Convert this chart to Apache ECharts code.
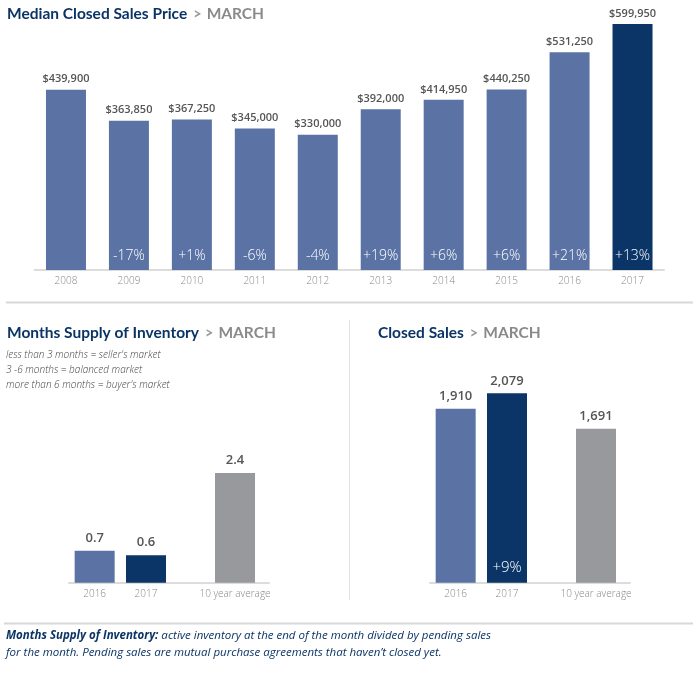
<!DOCTYPE html>
<html><head><meta charset="utf-8">
<script src="https://cdn.jsdelivr.net/npm/echarts@6/dist/echarts.min.js"></script>
<style>html,body{margin:0;padding:0;background:#fff}#c{width:700px;height:685px}</style>
</head><body><div id="c"></div>
<script>
// ---- data ----
var priceYears = ['2008','2009','2010','2011','2012','2013','2014','2015','2016','2017'];
var priceValues = [439900,363850,367250,345000,330000,392000,414950,440250,531250,599950];
var priceChanges = ['','-17%','+1%','-6%','-4%','+19%','+6%','+6%','+21%','+13%'];
var supplyCats = ['2016','2017'];
var supplyValues = [0.7,0.6];
var supplyAvgCat = ['10 year average'];
var supplyAvg = [2.4];
var salesCats = ['2016','2017'];
var salesValues = [1910,2079];
var salesAvgCat = ['10 year average'];
var salesAvg = [1691];
var salesChanges = ['','+9%'];

var LIGHT='#5a73a4', DARK='#0a3566', GRAY='#98999d', NAVY='#0b3466';
var FONT='"Open Sans", "Noto Sans", sans-serif';
var TFONT='Lato, "Open Sans", sans-serif';

function fmtMoney(v){return '$'+v.toLocaleString('en-US');}
function fmtInt(v){return v.toLocaleString('en-US');}

var chart = echarts.init(document.getElementById('c'), null, {renderer:'canvas'});

function titleRich(){
  return {
    a:{fontFamily:TFONT,fontSize:15.5,fontWeight:'bold',color:NAVY},
    g:{fontFamily:TFONT,fontSize:14.5,color:'#999',padding:[0,5,0,6]},
    m:{fontFamily:TFONT,fontSize:15.5,fontWeight:'bold',color:'#8a8a8d'}
  };
}
function xAxisCfg(idx, data){
  return {type:'category', gridIndex:idx, data:data,
    axisLine:{show:true,lineStyle:{color:'#dcdcdc',width:2}},
    axisTick:{show:false},
    axisLabel:{color:'#888',fontFamily:FONT,fontSize:10,margin:6,fontWeight:300}};
}
function yAxisCfg(idx, max){
  return {type:'value', gridIndex:idx, min:0, max:max, show:false, splitLine:{show:false}};
}
var topLabel = {show:true,position:'top',distance:5,color:'#555',fontFamily:FONT,fontSize:11,fontWeight:600};
var bigTopLabel = {show:true,position:'top',distance:6,color:'#555',fontFamily:FONT,fontSize:13,fontWeight:600};

var option = {
  animation:false,
  backgroundColor:'#fff',
  title:[
    {left:2,top:1,text:'{a|Median Closed Sales Price}{g|>}{m|MARCH}',textStyle:{rich:titleRich()}},
    {left:2,top:320,text:'{a|Months Supply of Inventory}{g|>}{m|MARCH}',textStyle:{rich:titleRich()}},
    {left:373,top:320,text:'{a|Closed Sales}{g|>}{m|MARCH}',textStyle:{rich:titleRich()}}
  ],
  grid:[
    {left:34.5,right:36,top:24,bottom:415},
    {left:69,width:154,top:400,bottom:102.3},
    {left:201,width:68,top:400,bottom:102.3},
    {left:430,width:154,top:382.3,bottom:102.3},
    {left:562,width:68,top:382.3,bottom:102.3}
  ],
  xAxis:[
    xAxisCfg(0, priceYears),
    xAxisCfg(1, supplyCats.concat([''])),
    xAxisCfg(2, supplyAvgCat),
    xAxisCfg(3, salesCats.concat([''])),
    xAxisCfg(4, salesAvgCat)
  ],
  yAxis:[yAxisCfg(0,600000),yAxisCfg(1,4),yAxisCfg(2,4),yAxisCfg(3,2200),yAxisCfg(4,2200)],
  series:[
    {type:'bar',xAxisIndex:0,yAxisIndex:0,barWidth:40,
      data:priceValues.map(function(v,i){return {value:v,itemStyle:{color:i===priceValues.length-1?DARK:LIGHT}};}),
      label:Object.assign({},topLabel,{formatter:function(p){return fmtMoney(p.value);}})},
    {type:'bar',xAxisIndex:0,yAxisIndex:0,barWidth:40,barGap:'-100%',
      data:priceValues,itemStyle:{color:'rgba(0,0,0,0)'},
      label:{show:true,position:'insideBottom',distance:7,color:'#fff',fontFamily:FONT,fontSize:14,fontWeight:300,
        formatter:function(p){return priceChanges[p.dataIndex];}}},
    {type:'bar',xAxisIndex:1,yAxisIndex:1,barWidth:40,
      data:supplyValues.map(function(v,i){return {value:v,itemStyle:{color:i===0?LIGHT:DARK}};}),
      label:Object.assign({},bigTopLabel,{formatter:function(p){return p.value.toFixed(1);}})},
    {type:'bar',xAxisIndex:2,yAxisIndex:2,barWidth:40,
      data:supplyAvg,itemStyle:{color:GRAY},
      label:Object.assign({},bigTopLabel,{formatter:function(p){return p.value.toFixed(1);}})},
    {type:'bar',xAxisIndex:3,yAxisIndex:3,barWidth:40,
      data:salesValues.map(function(v,i){return {value:v,itemStyle:{color:i===0?LIGHT:DARK}};}),
      label:Object.assign({},bigTopLabel,{formatter:function(p){return fmtInt(p.value);}})},
    {type:'bar',xAxisIndex:3,yAxisIndex:3,barWidth:40,barGap:'-100%',
      data:salesValues,itemStyle:{color:'rgba(0,0,0,0)'},
      label:{show:true,position:'insideBottom',distance:7,color:'#fff',fontFamily:FONT,fontSize:15,fontWeight:300,
        formatter:function(p){return salesChanges[p.dataIndex];}}},
    {type:'bar',xAxisIndex:4,yAxisIndex:4,barWidth:40,
      data:salesAvg,itemStyle:{color:GRAY},
      label:Object.assign({},bigTopLabel,{formatter:function(p){return fmtInt(p.value);}})}
  ],
  graphic:[
    {type:'line',shape:{x1:6,y1:302.5,x2:693,y2:302.5},style:{stroke:'#d8d8d8',lineWidth:2},silent:true},
    {type:'line',shape:{x1:349.5,y1:320,x2:349.5,y2:600},style:{stroke:'#e2e2e2',lineWidth:1},silent:true},
    {type:'line',shape:{x1:4,y1:623.5,x2:693,y2:623.5},style:{stroke:'#d8d8d8',lineWidth:2},silent:true},
    {type:'text',left:6,top:348,style:{text:"less than 3 months = seller's market\n3 -6 months = balanced market\nmore than 6 months = buyer's market",
      fontFamily:FONT,fontSize:10,fontStyle:'italic',fontWeight:300,fill:'#444',lineHeight:15}},
    {type:'text',left:6,top:630,style:{
      text:"{b|Months Supply of Inventory:}{n| active inventory at the end of the month divided by pending sales}\n{n|for the month. Pending sales are mutual purchase agreements that haven\u2019t closed yet.}",
      rich:{
        b:{fontFamily:FONT,fontSize:11.5,fontStyle:'italic',fontWeight:'bold',fill:NAVY,lineHeight:17},
        n:{fontFamily:FONT,fontSize:11.5,fontStyle:'italic',fill:NAVY,lineHeight:17}
      }}}
  ]
};
chart.setOption(option);
</script></body></html>
